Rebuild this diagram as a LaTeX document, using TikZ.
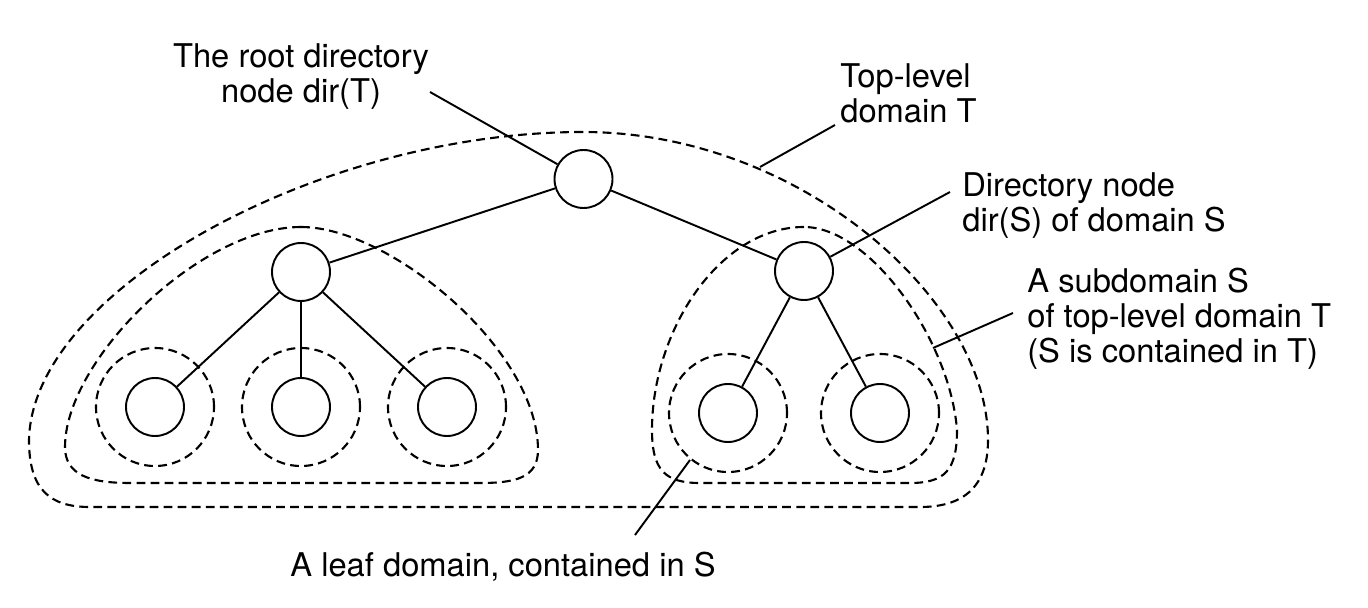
\documentclass[tikz,border=0pt]{standalone}
\usepackage{fontspec}
\setmainfont{TeX Gyre Heros}
\usepackage{tikz}
\usetikzlibrary{positioning}

\begin{document}
\begin{tikzpicture}[
    on grid,
    dirnode/.style={circle, draw, line width=1.1pt, minimum size=1.16cm, inner sep=0pt},
    dombound/.style={draw, line width=1.2pt, dash pattern=on 5pt off 3pt},
    link/.style={line width=1.1pt},
    lbl/.style={inner sep=0pt, align=left, font=\fontsize{18.6pt}{20.2pt}\selectfont}
]
\useasboundingbox (0,0) rectangle (27.36,-12.16);

% Root directory node
\node[dirnode] (root) at (11.67,-3.58) {};

% Directory nodes of the subdomains
\node[dirnode, below left=1.86cm and 5.65cm of root] (dirL) {};
\node[dirnode, below right=1.84cm and 4.41cm of root] (dirS) {};

% Leaf nodes
\node[dirnode, below=2.70cm of dirL] (leaf2) {};
\node[dirnode, left=2.92cm of leaf2] (leaf1) {};
\node[dirnode, right=2.92cm of leaf2] (leaf3) {};
\node[dirnode, below left=2.84cm and 1.52cm of dirS] (leaf4) {};
\node[dirnode, below right=2.84cm and 1.52cm of dirS] (leaf5) {};

% Tree edges
\draw[link] (root) -- (dirL);
\draw[link] (root) -- (dirS);
\foreach \n in {leaf1,leaf2,leaf3}
    \draw[link] (dirL) -- (\n);
\foreach \n in {leaf4,leaf5}
    \draw[link] (dirS) -- (\n);

% Leaf domains
\foreach \n in {leaf1,leaf2,leaf3,leaf4,leaf5}
    \draw[dombound] (\n) circle[radius=1.18cm];

% Subdomains
\draw[dombound] (6.02,-4.54) .. controls (4.0,-4.54) and (1.30,-7.2) .. (1.30,-8.94)
    .. controls (1.30,-9.5) and (1.8,-9.66) .. (2.6,-9.66) -- (9.6,-9.66)
    .. controls (10.3,-9.66) and (10.76,-9.56) .. (10.76,-9.0)
    .. controls (10.76,-7.0) and (7.8,-4.54) .. cycle;
\draw[dombound] (16.08,-4.54) .. controls (14.4,-4.54) and (13.04,-6.6) .. (13.04,-8.6)
    .. controls (13.04,-9.4) and (13.3,-9.66) .. (14.0,-9.66) -- (18.2,-9.66)
    .. controls (18.9,-9.66) and (19.14,-9.4) .. (19.14,-8.6)
    .. controls (19.0,-6.8) and (17.4,-4.54) .. cycle;

% Top-level domain
\draw[dombound] (11.66,-2.64) .. controls (6.4,-2.64) and (0.64,-5.8) .. (0.58,-8.8)
    .. controls (0.58,-9.8) and (1.0,-10.14) .. (1.8,-10.14) -- (18.4,-10.14)
    .. controls (19.2,-10.14) and (19.76,-9.8) .. (19.76,-8.8)
    .. controls (19.76,-6.0) and (16.0,-2.64) .. cycle;

% Labels (base = last line)
\node[lbl, align=center, anchor=base] (rootLbl) at (6.02,-2.06) {The root directory\\node dir(T)};
\node[lbl, anchor=base west] (topLbl) at (16.8,-2.46) {Top-level\\domain T};
\node[lbl, anchor=base west] (dirSLbl) at (19.24,-4.64) {Directory node\\dir(S) of domain S};
\node[lbl, anchor=base west] (subLbl) at (20.54,-7.26) {A subdomain S\\of top-level domain T\\(S is contained in T)};
\node[lbl, anchor=base] (leafLbl) at (10.06,-11.52) {A leaf domain, contained in S};

% Pointer lines
\coordinate (rootTip) at (8.6,-1.84);
\coordinate (topA) at (16.7,-2.5);
\coordinate (topB) at (15.2,-3.34);
\coordinate (dirSTip) at (19.0,-3.84);
\coordinate (subA) at (20.26,-6.26);
\coordinate (subB) at (18.66,-6.96);
\coordinate (leafA) at (13.8,-9.2);
\coordinate (leafB) at (12.7,-10.7);
\draw[link] (rootTip) -- (root);
\draw[link] (topA) -- (topB);
\draw[link] (dirSTip) -- (dirS);
\draw[link] (subA) -- (subB);
\draw[link] (leafA) -- (leafB);

\end{tikzpicture}
\end{document}
